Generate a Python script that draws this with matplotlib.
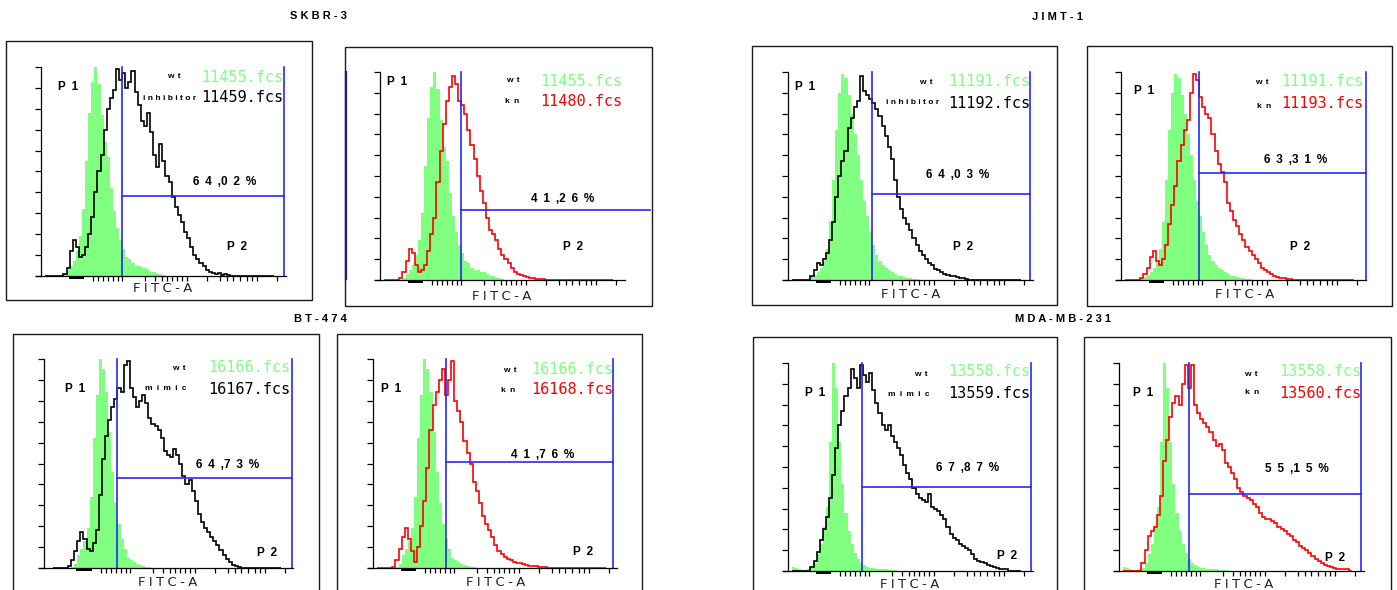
import numpy as np
import matplotlib
matplotlib.use("Agg")
import matplotlib.pyplot as plt
from matplotlib.patches import Rectangle
from matplotlib.lines import Line2D

# ---------------------------------------------------------------------------
# Histogram data: event counts (% of each plot's full scale) per FITC-A bin.
# Bins are in log10(FITC-A) units, starting at BIN_START with width BIN_WIDTH.
# ---------------------------------------------------------------------------
BIN_START = 2.00
BIN_WIDTH = 0.04
N_BINS = 74

# SKBR-3
wt_11455 = [0, 0, 0, 0, 0, 0, 1, 3, 5, 7, 12, 19, 32, 55, 78, 93, 100, 92, 77, 64,
            57, 42, 31, 23, 17, 13, 9, 8, 6, 5, 5, 4, 4, 3, 2, 2, 1, 1, 0.5]
inhibitor_11459 = [0, 0, 0, 0, 0, 0, 1, 4, 12, 17, 14, 9, 10, 14, 20, 28, 40, 50, 58, 70,
                   80, 85, 89, 99, 94, 97, 90, 93, 98, 88, 82, 74, 72, 78, 69, 58, 52, 63, 55, 48,
                   45, 38, 33, 29, 26, 21, 18, 14, 10, 8, 6, 5, 3, 2, 1.5, 1, 1.5, 0.5, 1, 0.5]
kn_11480 = [0, 0, 0, 0, 0, 1, 4, 9, 15, 13, 7, 4, 5, 7, 14, 22, 30, 47, 62, 75,
            86, 93, 98, 94, 86, 84, 80, 72, 65, 58, 50, 43, 37, 30, 24, 22, 19, 15, 12, 10,
            8, 6, 4, 3, 2.5, 2, 1.5, 1, 1, 0.5, 0.5, 0.5]

# JIMT-1
wt_11191 = [0, 0, 0, 0, 0, 0.5, 1.5, 2.5, 4, 6, 9, 15, 28, 48, 72, 90, 99, 97, 89, 80,
            70, 60, 48, 38, 31, 23, 17, 12, 9, 7, 6, 5, 4, 3, 2, 2, 1.5, 1, 1, 0.5, 0.5]
inhibitor_11192 = [0, 0, 0, 0, 0, 0, 2, 5, 8, 7, 10, 13, 19, 28, 40, 50, 57, 62, 73, 78,
                   83, 86, 98, 91, 89, 87, 85, 82, 79, 74, 69, 64, 58, 48, 40, 34, 30, 27, 24, 20,
                   17, 14, 12, 10, 8, 7, 5.5, 5, 4, 3, 2.5, 2, 2, 1.5, 1, 1, 0.5]
kn_11193 = [0, 0, 0, 0, 0, 1, 3, 6, 11, 14, 9, 7, 10, 17, 27, 36, 45, 57, 65, 72,
            77, 90, 99, 96, 88, 83, 80, 78, 70, 62, 56, 52, 47, 37, 33, 29, 26, 22, 19, 16,
            14, 12, 10, 8, 6, 5, 4, 3, 2, 1.5, 1, 1, 0.5, 0.5]

# BT-474
wt_16166 = [0, 0, 0, 0, 0, 0, 0.5, 2, 6, 9, 13, 19, 34, 62, 83, 100, 95, 84, 65, 46,
            31, 21, 14, 9, 5, 4, 3, 2, 1.5, 1, 0.5, 0.5]
mimic_16167 = [0, 0, 0, 0, 0, 1, 4, 8, 13, 17, 14, 9, 8, 12, 18, 35, 52, 63, 71, 77,
               81, 86, 84, 97, 99, 86, 82, 77, 80, 83, 79, 72, 69, 68, 66, 62, 56, 54, 53, 57,
               54, 50, 44, 40, 42, 37, 32, 26, 22, 19, 17, 15, 13, 11, 8.5, 6, 4.5, 3, 1.5, 1,
               0.5]
kn_16168 = [0, 0, 0, 0, 0, 0.5, 4, 9, 15, 19, 14, 8, 3, 10, 20, 32, 48, 66, 78, 84,
            90, 95, 83, 90, 99, 80, 75, 70, 61, 55, 50, 41, 37, 31, 25, 21, 18, 15, 11, 8,
            6.5, 5.5, 4.5, 4, 3, 2.5, 2.5, 2, 1.5, 1, 1, 1, 0.5, 0.5, 0.3]

# MDA-MB-231
wt_13558 = [2, 1.5, 1, 0.5, 0.5, 1, 1.5, 4, 8, 13, 21, 31, 62, 100, 88, 62, 42, 28, 19, 13,
            8.5, 6, 4, 3, 2, 1.5, 1.3, 1, 1, 0.8, 0.8, 0.5, 0.5, 0.5]
mimic_13559 = [0, 0, 0, 0, 0, 0, 2, 5, 9, 15, 20, 26, 35, 46, 59, 70, 77, 84, 88, 97,
               93, 88, 99, 94, 91, 95, 87, 81, 76, 70, 68, 70, 65, 62, 59, 56, 51, 47, 44, 40,
               37, 35, 34, 33, 37, 31, 30, 29, 27, 25, 21, 18, 16, 15, 13, 12, 11, 10, 8, 6,
               5, 4.5, 4, 3, 2.5, 2, 1.3, 1, 1, 0.8]
kn_13560 = [0, 0, 0, 0, 0, 0, 4, 10, 17, 19, 21, 27, 36, 53, 63, 74, 81, 84, 80, 90,
            99, 88, 99, 80, 76, 73, 71, 69, 67, 63, 60, 61, 58, 52, 50, 47, 44, 40, 38, 36,
            35, 34, 32, 31, 28, 26, 25, 25, 24, 23, 21, 20, 19, 18, 17, 15, 14, 12, 11, 10,
            8.5, 7, 6, 5, 4, 3, 2.5, 2, 1.3, 1, 1, 0.8, 0.8]

# Gate statistics (share of events in P2)
pct_labels = ["64,02%", "41,26%", "64,03%", "63,31%", "64,73%", "41,76%", "67,87%", "55,15%"]
cell_lines = ["SKBR-3", "JIMT-1", "BT-474", "MDA-MB-231"]

# ---------------------------------------------------------------------------
# Styling
# ---------------------------------------------------------------------------
W, H, DPI = 1397, 590, 100
PX_PER_DECADE = 77.3
GREEN = "#80ff80"
RED = "#ff0000"
BLUE = "#2626ff"
NAVY = "#1a1a8a"
INK = "#000000"
BOLD = ["Liberation Sans", "DejaVu Sans"]
MONO = ["DejaVu Sans Mono"]
EN = "\u2002"
QSP = "\u2005"

# Minor/major tick positions along the log FITC-A axis
XTICKS = [2.623, 2.687, 2.752, 2.817, 2.881, 2.946, 2.998,
          3.295, 3.425, 3.515, 3.580, 3.645, 3.709, 3.774, 3.839,
          4.098, 4.266, 4.356, 4.434, 4.524, 4.615, 4.680, 4.744, 5.003]
BAR_U = (2.31, 2.51)

fig = plt.figure(figsize=(W / DPI, H / DPI), dpi=DPI)
fig.patch.set_facecolor("white")


def fx(px):
    return px / W


def fy(py):
    return 1 - py / H


def padded(v):
    a = np.zeros(N_BINS)
    a[:len(v)] = v
    return a


def spaced(s, sep=" "):
    out = ""
    for i, ch in enumerate(s):
        out += ch
        if i < len(s) - 1 and ch != ",":
            out += sep
    return out


edges = BIN_START + BIN_WIDTH * np.arange(N_BINS + 1)

panels = [
    dict(box=(6, 41, 312, 300), x0=41, ytop=67, ybot=276, w=245, uleft=1.95,
         gate=3.00, right=5.09, level=38.3, level_end=None,
         fill=wt_11455, line=inhibitor_11459, color=INK,
         tags=("w" + EN + "t", "i n h i b i t o r"), files=("11455.fcs", "11459.fcs"),
         tag_xy=((174, 76), (170, 98)), file_r=283, rows=(77, 98),
         p1=(68, 87), pct=(225, 182), p2=(237, 247), fitc=(163, 288)),
    dict(box=(345, 47, 652, 306), x0=380, ytop=72, ybot=280, w=245, uleft=1.95,
         gate=3.00, right=None, level=33.7, level_end=5.44,
         fill=wt_11455, line=kn_11480, color=RED,
         tags=("w" + EN + "t", "k" + EN + "n"), files=("11455.fcs", "11480.fcs"),
         tag_xy=((513, 81), (512, 102)), file_r=622, rows=(82, 102),
         p1=(397, 82), pct=(563, 199), p2=(573, 247), fitc=(502, 296)),
    dict(box=(752, 46, 1057, 305), x0=788, ytop=72, ybot=280, w=245, uleft=1.95,
         gate=3.04, right=5.08, level=41.3, level_end=None,
         fill=wt_11191, line=inhibitor_11192, color=INK,
         tags=("w" + EN + "t", "i n h i b i t o r"), files=("11191.fcs", "11192.fcs"),
         tag_xy=((926, 82), (913, 103)), file_r=1030, rows=(82, 103),
         p1=(805, 87), pct=(958, 175), p2=(963, 247), fitc=(911, 295)),
    dict(box=(1087, 46, 1392, 306), x0=1121, ytop=72, ybot=280, w=245, uleft=1.95,
         gate=2.96, right=5.12, level=51.4, level_end=None,
         fill=wt_11191, line=kn_11193, color=RED,
         tags=("w" + EN + "t", "k" + EN + "n"), files=("11191.fcs", "11193.fcs"),
         tag_xy=((1262, 82), (1264, 106)), file_r=1363, rows=(82, 103),
         p1=(1144, 91), pct=(1296, 160), p2=(1300, 247), fitc=(1245, 295)),
    dict(box=(13, 334, 319, 620), x0=44, ytop=359, ybot=568, w=249, uleft=1.89,
         gate=2.83, right=5.10, level=43.1, level_end=None,
         fill=wt_16166, line=mimic_16167, color=INK,
         tags=("w" + EN + "t", EN.join("mimic")), files=("16166.fcs", "16167.fcs"),
         tag_xy=((179, 368), (166, 389)), file_r=290, rows=(368, 389),
         p1=(75, 389), pct=(228, 465), p2=(267, 553), fitc=(168, 582)),
    dict(box=(337, 334, 642, 620), x0=373, ytop=359, ybot=568, w=244, uleft=1.95,
         gate=2.89, right=5.05, level=50.7, level_end=None,
         fill=wt_16166, line=kn_16168, color=RED,
         tags=("w" + EN + "t", "k" + EN + "n"), files=("16166.fcs", "16168.fcs"),
         tag_xy=((510, 370), (508, 390)), file_r=613, rows=(369, 389),
         p1=(391, 389), pct=(543, 455), p2=(583, 552), fitc=(496, 582)),
    dict(box=(753, 337, 1057, 620), x0=788, ytop=363, ybot=571, w=245, uleft=1.95,
         gate=2.91, right=5.09, level=40.4, level_end=None,
         fill=wt_13558, line=mimic_13559, color=INK,
         tags=("w" + EN + "t", EN.join("mimic")), files=("13558.fcs", "13559.fcs"),
         tag_xy=((921, 374), (909, 394)), file_r=1030, rows=(372, 393),
         p1=(815, 393), pct=(968, 468), p2=(1007, 556), fitc=(910, 584)),
    dict(box=(1084, 337, 1391, 620), x0=1119, ytop=363, ybot=571, w=245, uleft=1.95,
         gate=2.86, right=5.08, level=37.0, level_end=None,
         fill=wt_13558, line=kn_13560, color=RED,
         tags=("w" + EN + "t", "k" + EN + "n"), files=("13558.fcs", "13560.fcs"),
         tag_xy=((1251, 374), (1252, 393)), file_r=1361, rows=(372, 393),
         p1=(1143, 393), pct=(1297, 469), p2=(1335, 558), fitc=(1244, 584)),
]

title_xy = [(318, 16), (1057, 17), (320, 319), (1063, 319)]

for name, (tx, ty) in zip(cell_lines, title_xy):
    fig.text(fx(tx), fy(ty), spaced(name), family=BOLD, weight="bold",
             fontsize=8, ha="center", va="center", color=INK)

for p, pct in zip(panels, pct_labels):
    bx1, by1, bx2, by2 = p["box"]
    fig.add_artist(Rectangle((fx(bx1), fy(by2)), (bx2 - bx1) / W, (by2 - by1) / H,
                             transform=fig.transFigure, fill=False,
                             ec="#1a1a1a", lw=1.0))

    hpx = p["ybot"] - p["ytop"]
    ax = fig.add_axes([fx(p["x0"]), fy(p["ybot"]), p["w"] / W, hpx / H])
    ax.patch.set_alpha(0)
    ax.set_xlim(p["uleft"], p["uleft"] + p["w"] / PX_PER_DECADE)
    ax.set_ylim(0, 100)
    for side in ("top", "right", "bottom"):
        ax.spines[side].set_visible(False)
    ax.spines["left"].set_linewidth(0.9)
    ax.set_yticks(np.arange(0, 101, 10))
    ax.set_xticks(XTICKS)
    ax.tick_params(axis="y", direction="out", length=4.5, width=0.9,
                   color=INK, labelleft=False)
    ax.tick_params(axis="x", direction="out", length=3.5, width=0.9,
                   color=INK, labelbottom=False)
    ax.plot([-5 / p["w"], 1], [0, 0], transform=ax.transAxes, color=INK,
            lw=0.9, clip_on=False, zorder=4)
    ax.add_patch(Rectangle((BAR_U[0], -3.2 / hpx), BAR_U[1] - BAR_U[0], 3.2 / hpx,
                           transform=ax.get_xaxis_transform(), color=INK,
                           lw=0, clip_on=False))

    ax.stairs(padded(p["fill"]), edges, fill=True, color=GREEN, lw=0, zorder=1)
    ax.stairs(padded(p["line"]), edges, color=p["color"], lw=1.2, zorder=2)

    ax.plot([p["gate"]] * 2, [0, 100], color=BLUE, lw=1.2, clip_on=False, zorder=3)
    if p["right"] is not None:
        ax.plot([p["right"]] * 2, [0, 100], color=BLUE, lw=1.2,
                clip_on=False, zorder=3)
        end = p["right"]
    else:
        end = p["level_end"]
    ax.plot([p["gate"], end], [p["level"]] * 2, color=BLUE, lw=1.2,
            clip_on=False, zorder=3)

    # gate and file annotations
    (t1x, t1y), (t2x, t2y) = p["tag_xy"]
    fig.text(fx(t1x), fy(t1y), p["tags"][0], family=BOLD, weight="bold",
             fontsize=6, ha="center", va="center", color=INK)
    fig.text(fx(t2x), fy(t2y), p["tags"][1], family=BOLD, weight="bold",
             fontsize=6, ha="center", va="center", color=INK)
    fig.text(fx(p["file_r"]), fy(p["rows"][0]), p["files"][0], family=MONO,
             fontsize=11, ha="right", va="center", color=GREEN)
    fig.text(fx(p["file_r"]), fy(p["rows"][1]), p["files"][1], family=MONO,
             fontsize=11, ha="right", va="center", color=p["color"])
    fig.text(fx(p["p1"][0]), fy(p["p1"][1]), "P" + EN + "1", family=BOLD,
             weight="bold", fontsize=8.5, ha="center", va="center", color=INK)
    fig.text(fx(p["p2"][0]), fy(p["p2"][1]), "P" + EN + "2", family=BOLD,
             weight="bold", fontsize=8.5, ha="center", va="center", color=INK)
    fig.text(fx(p["pct"][0]), fy(p["pct"][1]), spaced(pct, EN), family=BOLD,
             weight="bold", fontsize=8.5, ha="center", va="center", color=INK)
    fig.text(fx(p["fitc"][0]), fy(p["fitc"][1]), QSP.join("FITC-A"),
             family=["DejaVu Sans"], fontsize=9.5, ha="center", va="center",
             color="#222222")

# dark edge line on the left border of the SKBR-3 knockdown plot
fig.add_artist(Line2D([fx(345.5)] * 2, [fy(72), fy(279)], color=NAVY, lw=1.6))

fig.savefig("out.png", dpi=DPI, facecolor="white")
